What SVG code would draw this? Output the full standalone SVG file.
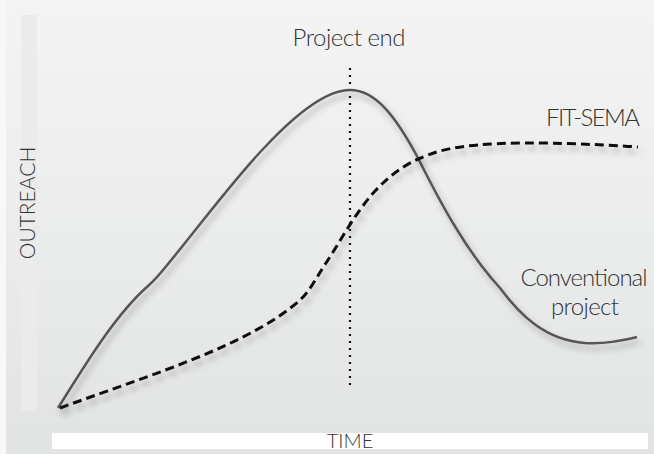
<svg xmlns="http://www.w3.org/2000/svg" width="654" height="454" viewBox="0 0 654 454">
<defs>
<linearGradient id="bg" x1="0" y1="0" x2="0" y2="1">
<stop offset="0" stop-color="#f4f4f4"/>
<stop offset="1" stop-color="#e2e4e4"/>
</linearGradient>
<filter id="sh" x="-10%" y="-10%" width="130%" height="130%">
<feDropShadow dx="3" dy="5" stdDeviation="3" flood-color="#000" flood-opacity="0.3"/>
</filter>
<style>
.lbl{font-family:Lato,"Open Sans","Liberation Sans",sans-serif;font-weight:300;fill:#333;}
.big{font-size:24px;}
.ax{font-size:20px;}
.curve{fill:none;stroke-linecap:butt;stroke-linejoin:round;}
</style>
</defs>
<rect x="0" y="0" width="654" height="454" fill="#f8f8f8"/>
<rect x="6" y="0" width="648" height="454" fill="url(#bg)"/>
<g id="y-axis">
<rect x="21" y="15" width="16" height="396" fill="#ebebeb"/>
<text class="lbl" font-size="21" transform="translate(35,203) rotate(-90)" text-anchor="middle">OUTREACH</text>
</g>
<g id="x-axis">
<rect x="52" y="433" width="596" height="16" fill="#ffffff"/>
<text class="lbl ax" x="350" y="448" text-anchor="middle">TIME</text>
</g>
<g id="connectors">
<path id="project-end-line" class="curve" d="M350,68 L350,388" stroke="#111" stroke-width="2.2" stroke-dasharray="2 5"/>
<path id="conventional-curve" class="curve" filter="url(#sh)" stroke="#555" stroke-width="2.5" d="M58,408 C85,365 115,315 148,286 C156,279 160,274 168,264 C200,225 235,178 265,147 C295,115 325,90 350,90 C375,90 395,115 418,158 C438,198 465,250 500,288 C520,315 545,340 585,343 C605,344 620,341 637,337"/>
<path id="fitsema-curve" class="curve" filter="url(#sh)" stroke="#111" stroke-width="3" stroke-dasharray="9 5" d="M60,408 C150,375 250,345 300,300 C310,291 316,278 326,263 C340,242 355,213 375,191 C393,172 410,160 440,151 C480,140 560,142 638,147"/>
</g>
<g id="label-project-end">
<text class="lbl big" x="349" y="46" text-anchor="middle" textLength="113">Project end</text>
</g>
<g id="label-fit-sema">
<text class="lbl big" x="593" y="126" text-anchor="middle" textLength="94">FIT-SEMA</text>
</g>
<g id="label-conventional">
<text class="lbl big" x="584" y="286" text-anchor="middle" textLength="127">Conventional</text>
<text class="lbl big" x="585" y="315" text-anchor="middle" textLength="68">project</text>
</g>
</svg>
